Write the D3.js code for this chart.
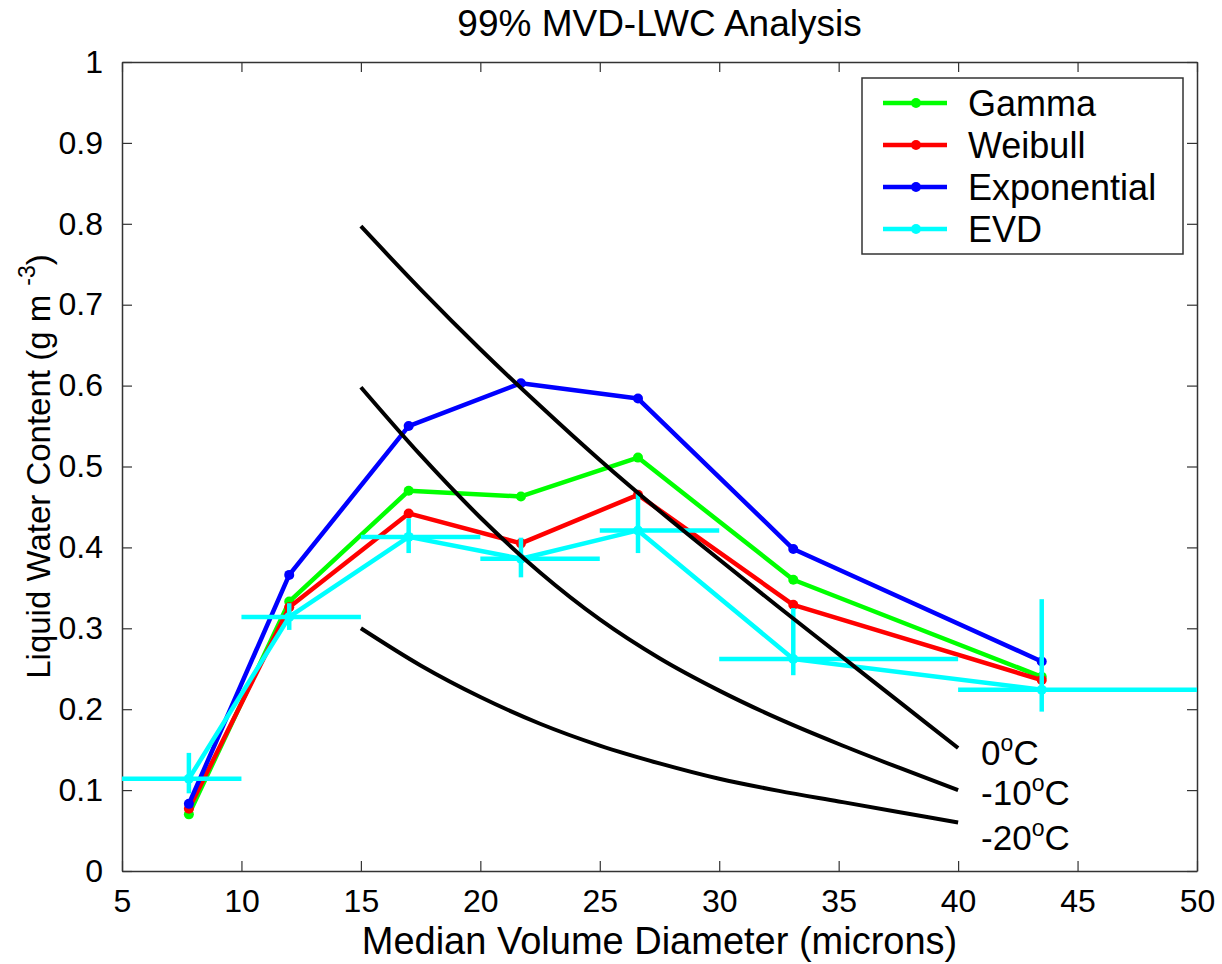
<!DOCTYPE html>
<html>
<head>
<meta charset="utf-8">
<script src="https://cdn.jsdelivr.net/npm/d3@7/dist/d3.min.js"></script>
<style>
  body { margin: 0; background: #fff; }
  svg { font-family: "Liberation Sans", Arial, sans-serif; }
</style>
</head>
<body>
<div id="chart"></div>
<script>
// median volume diameter of each bin (microns)
var mvd = [7.8, 12, 17, 21.7, 26.6, 33.1, 43.5];
var gamma = [0.070, 0.333, 0.470, 0.463, 0.511, 0.360, 0.240];
var weibull = [0.077, 0.326, 0.442, 0.405, 0.465, 0.329, 0.236];
var exponential = [0.083, 0.366, 0.550, 0.603, 0.584, 0.398, 0.259];
var evd = [0.114, 0.314, 0.413, 0.386, 0.421, 0.262, 0.224];
// EVD error bars
var evdXLow = [5, 10, 15, 20, 25, 30, 40];
var evdXHigh = [10, 15, 20, 25, 30, 40, 50];
var evdYLow = [0.096, 0.298, 0.393, 0.363, 0.393, 0.242, 0.197];
var evdYHigh = [0.146, 0.331, 0.436, 0.412, 0.467, 0.325, 0.336];

// temperature curves
var tempX = [15, 17.5, 20, 22.5, 25, 27.5, 30, 32.5, 35, 37.5, 40];
var lwc0 = [0.797, 0.719, 0.645, 0.575, 0.508, 0.445, 0.385, 0.326, 0.268, 0.210, 0.152];
var lwc10 = [0.598, 0.514, 0.437, 0.369, 0.311, 0.263, 0.223, 0.188, 0.157, 0.128, 0.100];
var lwc20 = [0.300, 0.254, 0.215, 0.182, 0.155, 0.133, 0.114, 0.099, 0.086, 0.073, 0.060];
var tempLabels = ["0", "-10", "-20"];

var xTicks = [5, 10, 15, 20, 25, 30, 35, 40, 45, 50];
var yTicks = [0, 0.1, 0.2, 0.3, 0.4, 0.5, 0.6, 0.7, 0.8, 0.9, 1];

var margin = { left: 122, right: 25, top: 62, bottom: 93 },
    width = 1222 - margin.left - margin.right,
    height = 964 - margin.top - margin.bottom;

var svg = d3.select("#chart").append("svg")
    .attr("width", 1222)
    .attr("height", 964);

var g = svg.append("g")
    .attr("transform", "translate(" + margin.left + "," + margin.top + ")");

var x = d3.scaleLinear().domain([5, 50]).range([0, width]);
var y = d3.scaleLinear().domain([0, 1]).range([height, 0]);

var axisColor = "#333";
var tickLen = 10;

// axes with inward ticks on all four sides
g.append("g")
    .attr("transform", "translate(0," + height + ")")
    .call(d3.axisBottom(x).tickValues(xTicks).tickSizeInner(-tickLen).tickSizeOuter(0).tickPadding(18).tickFormat(d3.format("d")))
    .call(styleAxis);
g.append("g")
    .call(d3.axisTop(x).tickValues(xTicks).tickSizeInner(-tickLen).tickSizeOuter(0).tickFormat(""))
    .call(styleAxis);
g.append("g")
    .call(d3.axisLeft(y).tickValues(yTicks).tickSizeInner(-tickLen).tickSizeOuter(0).tickPadding(19).tickFormat(function(d) { return d3.format("")(+d.toFixed(1)); }))
    .call(styleAxis);
g.append("g")
    .attr("transform", "translate(" + width + ",0)")
    .call(d3.axisRight(y).tickValues(yTicks).tickSizeInner(-tickLen).tickSizeOuter(0).tickFormat(""))
    .call(styleAxis);

function styleAxis(sel) {
  sel.select(".domain").attr("stroke", axisColor).attr("stroke-width", 1.5);
  sel.selectAll(".tick line").attr("stroke", axisColor).attr("stroke-width", 1.2);
  sel.selectAll(".tick text").attr("fill", "#000").style("font-size", "32px");
}

// clip to plot area
svg.append("clipPath").attr("id", "clip")
  .append("rect").attr("width", width).attr("height", height);
var plot = g.append("g").attr("clip-path", "url(#clip)");

var line = d3.line()
    .x(function(d) { return x(d[0]); })
    .y(function(d) { return y(d[1]); });

var series = [
  { name: "Gamma", values: gamma, color: "#00ff00" },
  { name: "Weibull", values: weibull, color: "#ff0000" },
  { name: "Exponential", values: exponential, color: "#0000ff" },
  { name: "EVD", values: evd, color: "#00ffff" }
];

series.forEach(function(s) {
  var pts = mvd.map(function(m, i) { return [m, s.values[i]]; });
  plot.append("path")
      .datum(pts)
      .attr("fill", "none")
      .attr("stroke", s.color)
      .attr("stroke-width", 4.5)
      .attr("stroke-linejoin", "round")
      .attr("d", line);
  plot.selectAll(null)
      .data(pts)
      .enter().append("circle")
      .attr("cx", function(d) { return x(d[0]); })
      .attr("cy", function(d) { return y(d[1]); })
      .attr("r", 5)
      .attr("fill", s.color);
});

// EVD error bars
var bars = mvd.map(function(m, i) {
  return { x: m, y: evd[i], x0: evdXLow[i], x1: evdXHigh[i], y0: evdYLow[i], y1: evdYHigh[i] };
});
plot.selectAll(".hbar")
    .data(bars)
    .enter().append("line")
    .attr("x1", function(d) { return x(d.x0); })
    .attr("x2", function(d) { return x(d.x1); })
    .attr("y1", function(d) { return y(d.y); })
    .attr("y2", function(d) { return y(d.y); })
    .attr("stroke", "#00ffff")
    .attr("stroke-width", 4.5);
plot.selectAll(".vbar")
    .data(bars)
    .enter().append("line")
    .attr("x1", function(d) { return x(d.x); })
    .attr("x2", function(d) { return x(d.x); })
    .attr("y1", function(d) { return y(d.y0); })
    .attr("y2", function(d) { return y(d.y1); })
    .attr("stroke", "#00ffff")
    .attr("stroke-width", 4.5);

// temperature curves
var curve = d3.line()
    .x(function(d) { return x(d[0]); })
    .y(function(d) { return y(d[1]); })
    .curve(d3.curveMonotoneX);
[lwc0, lwc10, lwc20].forEach(function(vals, k) {
  var pts = tempX.map(function(t, i) { return [t, vals[i]]; });
  plot.append("path")
      .datum(pts)
      .attr("fill", "none")
      .attr("stroke", "#000")
      .attr("stroke-width", 4)
      .attr("d", curve);
  var last = pts[pts.length - 1];
  var lab = g.append("text")
      .attr("x", x(last[0]) + 23)
      .attr("y", y(last[1]) + [17, 15, 28][k])
      .style("font-size", "35px");
  lab.append("tspan").text(tempLabels[k]);
  lab.append("tspan").attr("dy", -14).style("font-size", "23px").text("o");
  lab.append("tspan").attr("dy", 14).text("C");
});

// legend
var legend = g.append("g").attr("transform", "translate(" + (862 - margin.left) + "," + (78 - margin.top) + ")");
legend.append("rect")
    .attr("width", 321).attr("height", 176)
    .attr("fill", "#fff").attr("stroke", axisColor).attr("stroke-width", 1.5);
series.forEach(function(s, i) {
  var ly = 25 + i * 42;
  legend.append("line")
      .attr("x1", 21).attr("x2", 85).attr("y1", ly).attr("y2", ly)
      .attr("stroke", s.color).attr("stroke-width", 4.5);
  legend.append("circle").attr("cx", 54).attr("cy", ly).attr("r", 5).attr("fill", s.color);
  legend.append("text")
      .attr("x", 106).attr("y", ly + 13)
      .style("font-size", "36px")
      .text(s.name);
});

// title and axis labels
svg.append("text")
    .attr("x", margin.left + width / 2).attr("y", 36)
    .attr("text-anchor", "middle")
    .style("font-size", "37px")
    .text("99% MVD-LWC Analysis");

svg.append("text")
    .attr("x", margin.left + width / 2).attr("y", 954)
    .attr("text-anchor", "middle")
    .style("font-size", "38px")
    .text("Median Volume Diameter (microns)");

var yl = svg.append("text")
    .attr("transform", "translate(50," + (margin.top + height / 2) + ") rotate(-90)")
    .attr("text-anchor", "middle")
    .style("font-size", "33px");
yl.append("tspan").text("Liquid Water Content (g m ");
yl.append("tspan").attr("dy", -15).style("font-size", "23px").text("-3");
yl.append("tspan").attr("dy", 15).text(")");
</script>
</body>
</html>
